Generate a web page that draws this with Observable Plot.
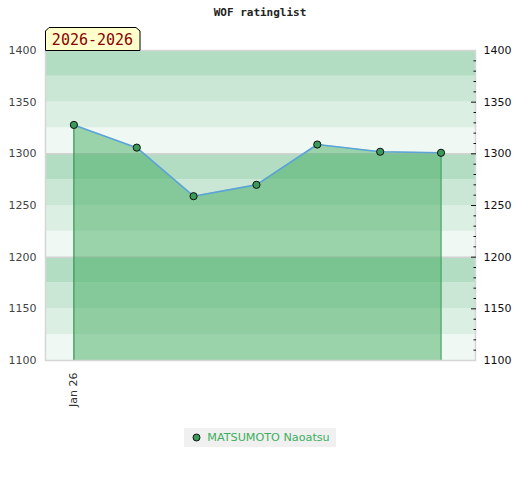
<!DOCTYPE html>
<html><head><meta charset="utf-8">
<script src="https://cdn.jsdelivr.net/npm/d3@7"></script>
<script src="https://cdn.jsdelivr.net/npm/@observablehq/plot@0.6"></script>
<style>
body{margin:0;background:#fff;}
#wrap{position:relative;width:520px;height:480px;font-family:"DejaVu Sans",sans-serif;}
#title{height:26px;line-height:26px;text-align:center;font-weight:bold;font-size:11px;font-family:"DejaVu Sans Mono",monospace;color:#222;}
#chart svg{display:block;}
#legend{display:flex;justify-content:center;margin-top:4px;}
#legend .box{display:flex;align-items:center;background:#f0f0f0;height:19px;padding:0 6px 0 8px;font-size:11.2px;color:#3cae5f;}
#legend svg{margin-right:6px;}
#tag{position:absolute;left:45px;top:27px;}
</style></head>
<body>
<div id="wrap">
  <div id="title">WOF ratinglist</div>
  <div id="chart"></div>
  <div id="legend"><div class="box"><svg width="9" height="9"><circle cx="4.5" cy="4.5" r="3.5" fill="#3a9a5a" stroke="#111" stroke-width="1"/></svg><span id="legendName"></span></div></div>
  <div id="tag"></div>
</div>
<script>
const playerName = "MATSUMOTO Naoatsu";
const periodLabel = "2026-2026";
const dates = ["2026-01-01","2026-02-01","2026-03-01","2026-04-01","2026-05-01","2026-06-01","2026-07-01"];
const ratings = [1328, 1306, 1259, 1270, 1309, 1302, 1301];
const yTicks = [1100, 1150, 1200, 1250, 1300, 1350, 1400];
const minorTicks = [1110,1120,1130,1140,1160,1170,1180,1190,1210,1220,1230,1240,1260,1270,1280,1290,1310,1320,1330,1340,1360,1370,1380,1390];
const gridValues = [1200, 1300];
const bandLow = [1100,1125,1150,1175,1200,1225,1250,1275,1300,1325,1350,1375];
const bandStep = 25;
const xDomain = ["2025-12-18","2026-07-18"];
const xTickLabels = ["Jan 26"];

const bandColors = ["#eff8f2","#dcefe3","#c9e7d4","#b3ddc3"];

const data = dates.map((d,i)=>({date:new Date(d), rating:ratings[i]}));
const bands = bandLow.map((lo,i)=>({lo, hi:lo+bandStep, c:bandColors[i%4]}));

document.getElementById("legendName").textContent = playerName;

const plain = d => String(d);

const chart = Plot.plot({
  width:520, height:398,
  marginTop:24, marginLeft:45, marginRight:45, marginBottom:64,
  style:{fontFamily:"DejaVu Sans, sans-serif", fontSize:"11px", overflow:"visible", background:"transparent"},
  x:{type:"utc", domain:xDomain.map(d=>new Date(d))},
  y:{domain:[1100,1400]},
  color:{type:"identity"},
  marks:[
    Plot.rect(bands,{y1:"lo", y2:"hi", fill:"c"}),
    Plot.ruleY(gridValues,{stroke:"#d2d2d2", strokeWidth:1.5}),
    Plot.areaY(data,{x:"date", y1:1100, y2:"rating", fill:"#3ba95b", fillOpacity:0.475}),
    Plot.ruleX([data[0], data[data.length-1]],{x:"date", y1:1100, y2:"rating", stroke:"#3a9a5a", strokeWidth:1.2}),
    Plot.line(data,{x:"date", y:"rating", stroke:"#5ba3d9", strokeWidth:1.6}),
    Plot.dot(data,{x:"date", y:"rating", r:3.6, fill:"#3a9a5a", stroke:"#111", strokeWidth:1}),
    Plot.frame({stroke:"#d6d6d6", strokeWidth:1.5}),
    Plot.axisY({anchor:"left", ticks:yTicks, tickFormat:plain, tickSize:0, tickPadding:9, fill:"#444"}),
    Plot.axisY({anchor:"right", ticks:yTicks, tickFormat:plain, tickSize:0, tickPadding:8, fill:"#111"}),
    Plot.axisY({anchor:"right", ticks:minorTicks, tickSize:2.5, tickFormat:()=>"", dx:-2.5, stroke:"#111"}),
    Plot.axisY({anchor:"right", ticks:yTicks.slice(1,-1), tickSize:5, tickFormat:()=>"", dx:-5, stroke:"#111"}),
    Plot.axisX({ticks:[data[0].date], tickFormat:(d,i)=>xTickLabels[i], tickRotate:-90, tickSize:0, tickPadding:12, fill:"#333"})
  ]
});
document.getElementById("chart").appendChild(chart);

// period tag
const ns = "http://www.w3.org/2000/svg";
const tag = document.createElementNS(ns,"svg");
tag.setAttribute("width","96"); tag.setAttribute("height","24");
const poly = document.createElementNS(ns,"polygon");
poly.setAttribute("points","0.5,23.5 0.5,4 4,0.5 91,0.5 95,4 95,23.5");
poly.setAttribute("fill","#ffffcc"); poly.setAttribute("stroke","#000"); poly.setAttribute("stroke-width","1");
tag.appendChild(poly);
const t = document.createElementNS(ns,"text");
t.setAttribute("x","47.5"); t.setAttribute("y","18"); t.setAttribute("text-anchor","middle");
t.setAttribute("font-family","DejaVu Sans Mono, monospace"); t.setAttribute("font-size","15");
t.setAttribute("fill","#8b0000");
t.textContent = periodLabel;
tag.appendChild(t);
document.getElementById("tag").appendChild(tag);
</script>
</body></html>
